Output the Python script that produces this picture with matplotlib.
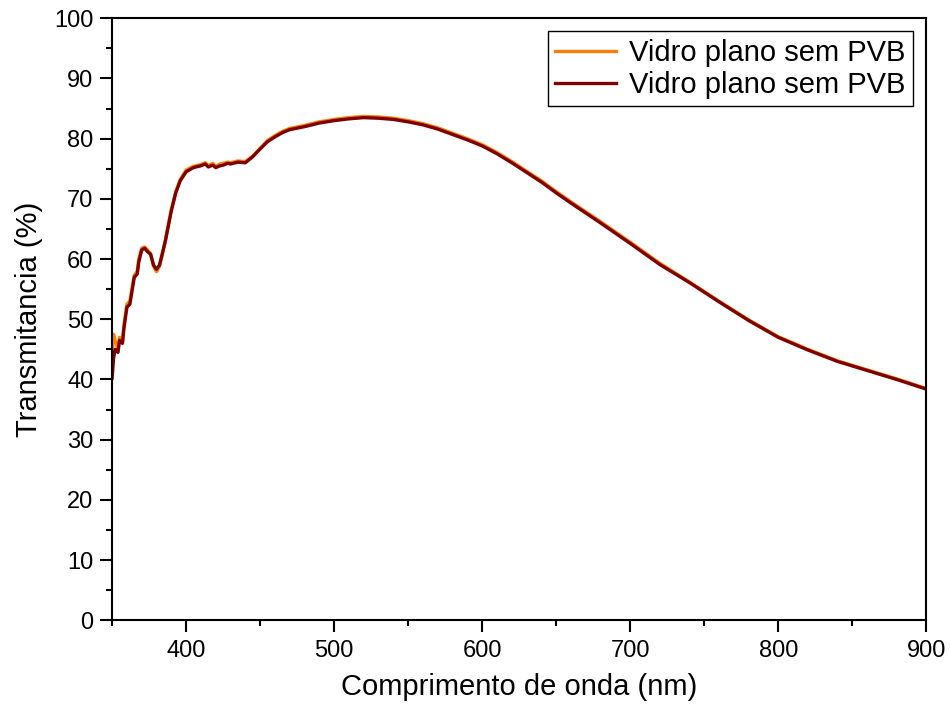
import numpy as np
from matplotlib import pyplot as plt
from matplotlib.ticker import MultipleLocator

plt.rcParams['font.family'] = ['Liberation Sans', 'DejaVu Sans']

wl = [350, 351, 352, 354, 355, 357, 358, 360, 362, 364, 365, 367, 368, 370, 372, 374, 376,
      378, 380, 382, 384, 386, 388, 390, 393, 396, 400, 405, 410, 413, 415, 418, 420, 423,
      425, 428, 430, 435, 440, 445, 450, 455, 460, 465, 470, 480, 490, 500, 510, 520, 530,
      540, 550, 560, 570, 580, 590, 600, 610, 620, 640, 650, 660, 680, 700, 720, 740, 750,
      760, 780, 800, 820, 840, 860, 880, 900]
t_dark = [40.2, 43.5, 45.0, 44.5, 46.5, 46.0, 48.5, 52.0, 52.5, 55.5, 57.0, 57.5, 59.5, 61.5,
          61.8, 61.2, 60.8, 59.0, 58.3, 59.0, 61.0, 63.0, 65.5, 68.0, 71.0, 73.0, 74.5,
          75.2, 75.5, 75.8, 75.3, 75.6, 75.2, 75.5, 75.6, 75.9, 75.8, 76.1, 76.0, 77.0,
          78.3, 79.5, 80.3, 81.0, 81.5, 82.0, 82.6, 83.0, 83.3, 83.5, 83.4, 83.2, 82.8,
          82.3, 81.6, 80.7, 79.8, 78.8, 77.5, 76.0, 72.8, 71.0, 69.3, 66.0, 62.6, 59.1,
          56.1, 54.5, 52.9, 49.8, 47.0, 44.9, 43.0, 41.5, 40.0, 38.4]
t_orange = [44.0, 47.5, 46.5, 45.0, 47.0, 46.5, 49.0, 52.5, 53.0, 56.0, 57.3, 58.0, 60.0, 61.8,
            62.0, 61.5, 60.9, 58.8, 57.9, 58.8, 60.8, 63.2, 65.8, 68.2, 71.2, 73.2, 74.8,
            75.4, 75.7, 76.0, 75.5, 75.9, 75.4, 75.8, 75.9, 76.1, 76.0, 76.3, 76.2, 77.1,
            78.4, 79.7, 80.5, 81.2, 81.7, 82.2, 82.8, 83.2, 83.5, 83.7, 83.6, 83.4, 83.0,
            82.5, 81.8, 80.9, 80.0, 79.0, 77.7, 76.2, 73.0, 71.2, 69.5, 66.2, 62.8, 59.3,
            56.2, 54.6, 53.0, 49.9, 47.1, 45.0, 43.1, 41.6, 40.1, 38.5]

fig = plt.figure(figsize=(9.5, 7.04), dpi=100)
ax = fig.add_axes([0.118, 0.119, 0.857, 0.855])

ax.plot(wl, t_orange, color='#ff8000', lw=2.4, label='Vidro plano sem PVB')
ax.plot(wl, t_dark, color='#7f0000', lw=2.4, label='Vidro plano sem PVB')

ax.set_xlim(350, 900)
ax.set_ylim(0, 100)
ax.xaxis.set_major_locator(MultipleLocator(100))
ax.xaxis.set_minor_locator(MultipleLocator(50))
ax.yaxis.set_major_locator(MultipleLocator(10))
ax.yaxis.set_minor_locator(MultipleLocator(5))
ax.tick_params(which='major', direction='out', length=8.5, width=1.5, labelsize=17)
ax.tick_params(which='minor', direction='out', length=4, width=1.5)
ax.tick_params(axis='x', which='major', pad=6)
ax.tick_params(axis='y', which='major', pad=5)
for s in ax.spines.values():
    s.set_linewidth(1.5)

ax.set_xlabel('Comprimento de onda (nm)', fontsize=21, labelpad=8)
ax.set_ylabel('Transmitancia (%)', fontsize=21, labelpad=8)

leg = ax.legend(loc='upper right', fontsize=21, frameon=True, fancybox=False,
                edgecolor='black', handlelength=2.1, borderpad=0.25, labelspacing=0.15,
                handletextpad=0.45, borderaxespad=0.45, framealpha=1)
leg.get_frame().set_linewidth(1.0)

fig.savefig('out.png', dpi=100)
